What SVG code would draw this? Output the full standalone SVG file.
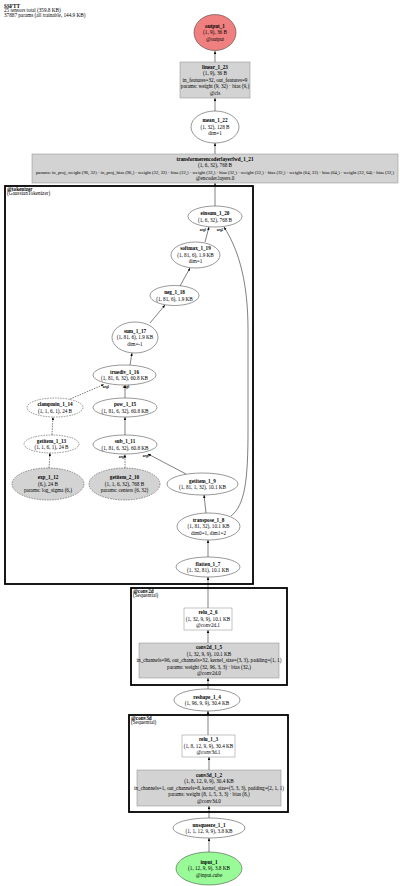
<svg xmlns="http://www.w3.org/2000/svg" width="400" height="886" viewBox="0 0 400 886">
<style>
text{font-family:"Liberation Serif","Times New Roman",serif;font-size:5.2px;fill:#000;text-anchor:middle}
.b{font-weight:bold}
.l{text-anchor:start}
.el{font-size:3.4px;font-weight:bold}
.sm{font-size:4.65px}
.e{stroke:#000;stroke-width:0.5;fill:none;marker-end:url(#arr)}
.d{stroke-dasharray:1.6,1}
.n{fill:#fff;stroke:#333;stroke-width:0.5}
.g{fill:#d3d3d3}
.bx{stroke:#888}
.cl{fill:none;stroke:#000;stroke-width:1.8}
</style>
<defs>
<marker id="arr" markerUnits="userSpaceOnUse" markerWidth="3" markerHeight="3" refX="3" refY="1.2" orient="auto">
<path d="M0,0 L3,1.2 L0,2.4 z" fill="#000"/>
</marker>
</defs>
<rect width="400" height="886" fill="#fff"/>
<g id="title">
<text class="l b" x="4" y="7.5">SSFTT</text>
<text class="l" x="4" y="12">25 tensors total (359.8 KB)</text>
<text class="l" x="4" y="16.5">37887 params (all trainable, 144.9 KB)</text>
</g>
<g id="clusters">
<g id="cluster_tokenizer">
<rect class="cl" x="5" y="186" width="248" height="398"/>
<text class="l b" x="7" y="190.5">@tokenizer</text>
<text class="l" x="7" y="195">(GaussianTokenizer)</text>
</g>
<g id="cluster_conv2d">
<rect class="cl" x="131" y="588" width="156" height="97"/>
<text class="l b" x="133" y="592.5">@conv2d</text>
<text class="l" x="133" y="597">(Sequential)</text>
</g>
<g id="cluster_conv3d">
<rect class="cl" x="129" y="715" width="159" height="97"/>
<text class="l b" x="131" y="719.5">@conv3d</text>
<text class="l" x="131" y="724">(Sequential)</text>
</g>
</g>
<g id="edges">
<path class="e" d="M209,852 L209,838"/>
<path class="e" d="M209,818 L209,806"/>
<path class="e" d="M209,770 L209,757"/>
<path class="e" d="M208,735 L208,711"/>
<path class="e" d="M208,689 L208,678"/>
<path class="e" d="M208,643 L208,630"/>
<path class="e" d="M208,608 L208,577"/>
<path class="e" d="M208,557 L208,540"/>
<path class="e" d="M206,513 L204,495"/>
<path class="e" d="M186,474 L148,454"/>
<path class="e d" d="M125,468 L125,454.5"/>
<path class="e d" d="M49,468 L50,453"/>
<path class="e d" d="M52,435 L53,417"/>
<path class="e d" d="M70,399 L104,384.5"/>
<path class="e" d="M125,435 L125,417"/>
<path class="e" d="M125,398 L125,385"/>
<path class="e" d="M130,365 L132,353"/>
<path class="e" d="M150,323 L165,305"/>
<path class="e" d="M180,286 L190,268"/>
<path class="e" d="M205,242 L209,227"/>
<path class="e" d="M231,516 C245,505 248,480 248,430 L248,330 C248,285 240,252 224,227"/>
<path class="e" d="M215,206 L215,183"/>
<path class="e" d="M215,154 L215,143"/>
<path class="e" d="M215,111 L215,98"/>
<path class="e" d="M215,62 L215,51"/>
<text class="el" x="203" y="230.5">arg1</text>
<text class="el" x="220" y="230.5">arg2</text>
<text class="el" x="106" y="387.5">arg1</text>
<text class="el" x="126" y="388">arg0</text>
<text class="el" x="122" y="457.5">arg1</text>
<text class="el" x="146" y="456.5">arg0</text>
</g>
<g id="output_1">
<ellipse class="n" cx="215" cy="32.5" rx="21" ry="18" style="fill:#f08080"/>
<text class="b" x="215" y="27.8">output_1</text>
<text x="215" y="34.3">(1, 9), 36 B</text>
<text x="215" y="40.8">@output</text>
</g>
<g id="linear_1_23">
<rect class="n g bx" x="180" y="62" width="70" height="36"/>
<text class="b" x="215" y="68.8">linear_1_23</text>
<text x="215" y="75.3">(1, 9), 36 B</text>
<text x="215" y="81.8">in_features=32, out_features=9</text>
<text x="215" y="88.3">params: weight (9, 32) · bias (9,)</text>
<text x="215" y="94.8">@cls</text>
</g>
<g id="mean_1_22">
<ellipse class="n" cx="215" cy="127" rx="24" ry="16"/>
<text class="b" x="215" y="122.3">mean_1_22</text>
<text x="215" y="128.8">(1, 32), 128 B</text>
<text x="215" y="135.3">dim=1</text>
</g>
<g id="transformerencoderlayerfwd_1_21">
<rect class="n g bx" x="32" y="154" width="366" height="29"/>
<text class="b" x="215" y="160.6">transformerencoderlayerfwd_1_21</text>
<text x="215" y="167.1">(1, 6, 32), 768 B</text>
<text class="sm" x="215" y="173.6" textLength="358" lengthAdjust="spacingAndGlyphs">params: in_proj_weight (96, 32) · in_proj_bias (96,) · weight (32, 32) · bias (32,) · weight (32,) · bias (32,) · weight (32,) · bias (32,) · weight (64, 32) · bias (64,) · weight (32, 64) · bias (32,)</text>
<text x="215" y="180.1">@encoder.layers.0</text>
</g>
<g id="einsum_1_20">
<ellipse class="n" cx="215" cy="216.5" rx="27" ry="10.5"/>
<text class="b" x="215" y="215">einsum_1_20</text>
<text x="215" y="221.5">(1, 6, 32), 768 B</text>
</g>
<g id="softmax_1_19">
<ellipse class="n" cx="195.5" cy="255" rx="24.5" ry="13"/>
<text class="b" x="195.5" y="250.3">softmax_1_19</text>
<text x="195.5" y="256.8">(1, 81, 6), 1.9 KB</text>
<text x="195.5" y="263.3">dim=1</text>
</g>
<g id="neg_1_18">
<ellipse class="n" cx="174.5" cy="295.5" rx="24.5" ry="10"/>
<text class="b" x="174.5" y="294">neg_1_18</text>
<text x="174.5" y="300.5">(1, 81, 6), 1.9 KB</text>
</g>
<g id="sum_1_17">
<ellipse class="n" cx="135" cy="337.5" rx="23" ry="15.5"/>
<text class="b" x="135" y="332.8">sum_1_17</text>
<text x="135" y="339.3">(1, 81, 6), 1.9 KB</text>
<text x="135" y="345.8">dim=-1</text>
</g>
<g id="truediv_1_16">
<ellipse class="n" cx="124.5" cy="375" rx="31.5" ry="10"/>
<text class="b" x="124.5" y="373.5">truediv_1_16</text>
<text x="124.5" y="380">(1, 81, 6, 32), 60.8 KB</text>
</g>
<g id="clampmin_1_14">
<ellipse class="n d" cx="55" cy="407.5" rx="28" ry="9.5"/>
<text class="b" x="55" y="406">clampmin_1_14</text>
<text x="55" y="412.5">(1, 1, 6, 1), 24 B</text>
</g>
<g id="pow_1_15">
<ellipse class="n" cx="125" cy="407.5" rx="32" ry="9.5"/>
<text class="b" x="125" y="406">pow_1_15</text>
<text x="125" y="412.5">(1, 81, 6, 32), 60.8 KB</text>
</g>
<g id="getitem_1_13">
<ellipse class="n d" cx="51.5" cy="444" rx="27.5" ry="9"/>
<text class="b" x="51.5" y="442.5">getitem_1_13</text>
<text x="51.5" y="449">(1, 1, 6, 1), 24 B</text>
</g>
<g id="sub_1_11">
<ellipse class="n" cx="125" cy="444.5" rx="32" ry="9.5"/>
<text class="b" x="125" y="443">sub_1_11</text>
<text x="125" y="449.5">(1, 81, 6, 32), 60.8 KB</text>
</g>
<g id="exp_1_12">
<ellipse class="n g d" cx="48" cy="484" rx="36" ry="16"/>
<text class="b" x="48" y="479.3">exp_1_12</text>
<text x="48" y="485.8">(6,), 24 B</text>
<text x="48" y="492.3">params: log_sigma (6,)</text>
</g>
<g id="getitem_2_10">
<ellipse class="n g d" cx="124.5" cy="484" rx="35.5" ry="16"/>
<text class="b" x="124.5" y="479.3">getitem_2_10</text>
<text x="124.5" y="485.8">(1, 1, 6, 32), 768 B</text>
<text x="124.5" y="492.3">params: centers (6, 32)</text>
</g>
<g id="getitem_1_9">
<ellipse class="n" cx="202.5" cy="484" rx="35.5" ry="11"/>
<text class="b" x="202.5" y="482.5">getitem_1_9</text>
<text x="202.5" y="489">(1, 81, 1, 32), 10.1 KB</text>
</g>
<g id="transpose_1_8">
<ellipse class="n" cx="208.5" cy="526.5" rx="31.5" ry="13.5"/>
<text class="b" x="208.5" y="521.8">transpose_1_8</text>
<text x="208.5" y="528.3">(1, 81, 32), 10.1 KB</text>
<text x="208.5" y="534.8">dim0=1, dim1=2</text>
</g>
<g id="flatten_1_7">
<ellipse class="n" cx="208" cy="567" rx="32" ry="10"/>
<text class="b" x="208" y="565.5">flatten_1_7</text>
<text x="208" y="572">(1, 32, 81), 10.1 KB</text>
</g>
<g id="relu_2_6">
<rect class="n bx" x="184" y="608" width="48" height="22"/>
<text class="b" x="208" y="614.3">relu_2_6</text>
<text x="208" y="620.8">(1, 32, 9, 9), 10.1 KB</text>
<text x="208" y="627.3">@conv2d.1</text>
</g>
<g id="conv2d_1_5">
<rect class="n g bx" x="139" y="643" width="140" height="35"/>
<text class="b" x="209" y="649.3">conv2d_1_5</text>
<text x="209" y="655.8">(1, 32, 9, 9), 10.1 KB</text>
<text x="209" y="662.3">in_channels=96, out_channels=32, kernel_size=(3, 3), padding=(1, 1)</text>
<text x="209" y="668.8">params: weight (32, 96, 3, 3) · bias (32,)</text>
<text x="209" y="675.3">@conv2d.0</text>
</g>
<g id="reshape_1_4">
<ellipse class="n" cx="207" cy="700" rx="33" ry="11"/>
<text class="b" x="207" y="698.5">reshape_1_4</text>
<text x="207" y="705">(1, 96, 9, 9), 30.4 KB</text>
</g>
<g id="relu_1_3">
<rect class="n bx" x="182" y="735" width="53" height="22"/>
<text class="b" x="208.5" y="741.3">relu_1_3</text>
<text x="208.5" y="747.8">(1, 8, 12, 9, 9), 30.4 KB</text>
<text x="208.5" y="754.3">@conv3d.1</text>
</g>
<g id="conv3d_1_2">
<rect class="n g bx" x="137" y="770" width="144" height="36"/>
<text class="b" x="209" y="776.8">conv3d_1_2</text>
<text x="209" y="783.3">(1, 8, 12, 9, 9), 30.4 KB</text>
<text x="209" y="789.8">in_channels=1, out_channels=8, kernel_size=(5, 3, 3), padding=(2, 1, 1)</text>
<text x="209" y="796.3">params: weight (8, 1, 5, 3, 3) · bias (8,)</text>
<text x="209" y="802.8">@conv3d.0</text>
</g>
<g id="unsqueeze_1_1">
<ellipse class="n" cx="209" cy="828" rx="36" ry="10"/>
<text class="b" x="209" y="826.5">unsqueeze_1_1</text>
<text x="209" y="833">(1, 1, 12, 9, 9), 3.8 KB</text>
</g>
<g id="input_1">
<ellipse class="n" cx="209" cy="868.5" rx="33" ry="16.5" style="fill:#98fb98"/>
<text class="b" x="209" y="863.8">input_1</text>
<text x="209" y="870.3">(1, 12, 9, 9), 3.8 KB</text>
<text x="209" y="876.8">@input.cube</text>
</g>
</svg>
